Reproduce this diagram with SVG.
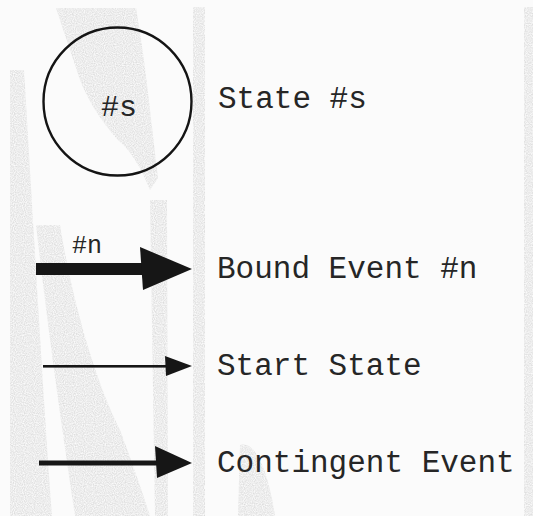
<svg xmlns="http://www.w3.org/2000/svg" width="533" height="516" viewBox="0 0 533 516">
  <style>
    .lbl { font-family: "Liberation Mono", "Courier New", monospace; font-size: 31px; fill: #262626; }
    .tag { font-family: "Liberation Mono", "Courier New", monospace; fill: #262626; }
    .shade { fill: #e6e6e6; }
    .ink { fill: #161616; }
  </style>
  <defs>
    <filter id="grain" x="0" y="0" width="100%" height="100%">
      <feTurbulence type="fractalNoise" baseFrequency="0.9" numOctaves="1" seed="3" result="n"/>
      <feColorMatrix in="n" type="matrix" values="0 0 0 0 0.6  0 0 0 0 0.6  0 0 0 0 0.6  0 0 0 -1.3 1.0" result="g"/>
      <feComposite in="g" in2="SourceGraphic" operator="in"/>
    </filter>
  </defs>

  <!-- paper -->
  <rect width="533" height="516" fill="#fbfbfb"/>

  <!-- background streaks -->
  <g id="backdrop" filter="url(#grain)" opacity="0.85">
    <path class="shade" d="M10,70 L24,70 C32,200 42,380 52,516 L10,516 Z"/>
    <path class="shade" d="M56,8 L136,8 C145,60 150,110 158,178 L150,190 C140,165 130,150 118,140 C100,120 88,100 80,80 Z"/>
    <path class="shade" d="M36,225 L60,225 C72,300 95,380 120,430 C135,470 145,500 150,516 L75,516 C62,430 48,330 36,225 Z"/>
    <path class="shade" d="M150,200 L167,200 L168,516 L155,516 Z"/>
    <rect class="shade" x="193" y="7" width="12" height="509"/>
    <rect class="shade" x="524" y="7" width="9" height="509"/>
    <path class="shade" d="M240,445 C255,440 268,470 275,516 L238,516 Z"/>
  </g>

  <!-- state node -->
  <g id="state-node">
    <circle cx="117.5" cy="101.5" r="74" fill="none" stroke="#141414" stroke-width="2.4"/>
    <text class="tag" x="101" y="116" font-size="30">#s</text>
  </g>

  <!-- legend arrows -->
  <g id="connectors">
    <g id="bound-event">
      <rect class="ink" x="36" y="263" width="106" height="12"/>
      <path class="ink" d="M140,247 L192,269 L143,290 Z"/>
      <text class="tag" x="72" y="253" font-size="25">#n</text>
    </g>
    <g id="start-state">
      <rect class="ink" x="43" y="365" width="125" height="2.6"/>
      <path class="ink" d="M165,356 L192,366 L166,376 Z"/>
    </g>
    <g id="contingent-event">
      <rect class="ink" x="39" y="460.5" width="119" height="5"/>
      <path class="ink" d="M155,446 L192,463 L157,478 Z"/>
    </g>
  </g>

  <!-- legend labels -->
  <g id="labels">
    <text class="lbl" x="218" y="108">State #s</text>
    <text class="lbl" x="217" y="278">Bound Event #n</text>
    <text class="lbl" x="217" y="375">Start State</text>
    <text class="lbl" x="217" y="472">Contingent Event</text>
  </g>
</svg>
